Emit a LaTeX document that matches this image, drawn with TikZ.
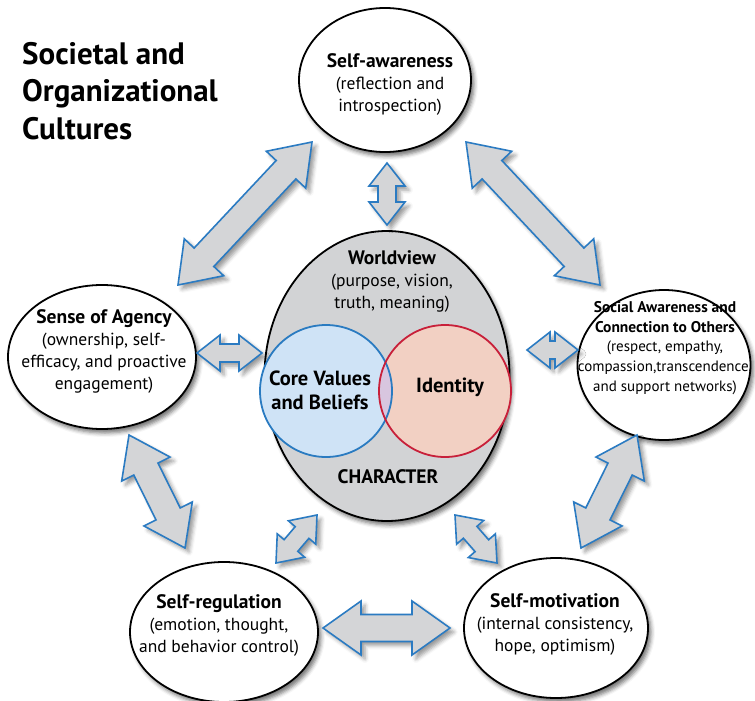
\documentclass[tikz,border=0pt]{standalone}
\usepackage{fontspec}
\setmainfont{PT Sans}
\usetikzlibrary{calc,shapes.geometric,shadows.blur}

\definecolor{arrowgray}{HTML}{D4D5D7}
\definecolor{arrowblue}{HTML}{2B7BC2}
\definecolor{chargray}{HTML}{D2D3D5}
\definecolor{coreblue}{HTML}{CFE3F6}
\definecolor{corerim}{HTML}{2A7BC1}
\definecolor{idpink}{HTML}{F2D0C3}
\definecolor{idrim}{HTML}{C8203A}
\definecolor{lens}{HTML}{D8C6DF}

% two-headed block arrow between two tips
% #1,#2 tips, #3 head half width, #4 shaft half width, #5 head length
\newcommand{\twoway}[5]{%
  \coordinate (tA) at #1;
  \coordinate (tB) at #2;
  \path[twoway]
    (tA) -- ($(tA)!#5!(tB)!#3!90:(tB)$) -- ($(tA)!#5!(tB)!#4!90:(tB)$)
    -- ($(tB)!#5!(tA)!#4!-90:(tA)$) -- ($(tB)!#5!(tA)!#3!-90:(tA)$)
    -- (tB) -- ($(tB)!#5!(tA)!#3!90:(tA)$) -- ($(tB)!#5!(tA)!#4!90:(tA)$)
    -- ($(tA)!#5!(tB)!#4!-90:(tB)$) -- ($(tA)!#5!(tB)!#3!-90:(tB)$) -- cycle;
}
\newcommand{\bigway}[2]{\twoway{#1}{#2}{27pt}{13.5pt}{38pt}}
\newcommand{\smallway}[2]{\twoway{#1}{#2}{18pt}{9pt}{23pt}}
% bold heading line
\newcommand{\hd}[1]{{\fontsize{19.5}{23}\selectfont\bfseries #1}}
\newcommand{\shd}[1]{{\fontsize{15.5}{20}\selectfont\bfseries #1}}

\begin{document}
\begin{tikzpicture}[x=1pt, y=-1pt,
  bubble/.style={ellipse, draw, line width=1.8pt, fill=white, inner sep=0pt,
    blur shadow={shadow xshift=3pt, shadow yshift=-4pt, shadow blur radius=4pt, shadow opacity=55}},
  twoway/.style={fill=arrowgray, draw=arrowblue, line width=1.6pt, line join=miter,
    blur shadow={shadow xshift=4pt, shadow yshift=-4pt, shadow blur radius=4pt, shadow opacity=40}},
  txt/.style={align=center, inner sep=0pt, font=\fontsize{17.5}{22}\selectfont},
  smalltxt/.style={align=center, inner sep=0pt, font=\fontsize{15}{19.6}\selectfont}]

  \useasboundingbox (0,0) rectangle (755,701);

  % Title
  \node [anchor=north west, align=left, inner sep=0pt,
    font=\fontsize{31}{37.5}\selectfont\bfseries] (title) at (22,42)
    {Societal and\\Organizational\\Cultures};

  % Outer bubbles
  \node [bubble, minimum width=172pt, minimum height=144pt] (aware) at (385,80) {};
  \node [bubble, minimum width=188pt, minimum height=144pt] (agency) at (102,357) {};
  \node [bubble, minimum width=173pt, minimum height=150pt] (social) at (664,365) {};
  \node [bubble, minimum width=188pt, minimum height=140pt] (regul) at (224,632) {};
  \node [bubble, minimum width=184pt, minimum height=140pt] (motiv) at (556,628) {};

  % Character
  \node [bubble, fill=chargray, minimum width=245pt, minimum height=290pt] (char) at (387,376) {};
  \node [circle, fill=coreblue, minimum size=132pt, inner sep=0pt] (core) at (326,391) {};
  \node [circle, fill=idpink, minimum size=132pt, inner sep=0pt] (ident) at (445,391) {};
  \begin{scope}
    \clip (core.center) circle [radius=66pt];
    \fill [lens] (ident.center) circle [radius=66pt];
  \end{scope}
  \draw [corerim, line width=1.8pt] (core.center) circle [radius=66pt];
  \draw [idrim, line width=1.8pt] (ident.center) circle [radius=66pt];

  % Texts
  \node [txt] (awaretxt) at (390,84) {\hd{Self-awareness}\\(reflection and\\introspection)};
  \node [txt] (agencytxt) at (104,351) {\hd{Sense of Agency}\\(ownership, self-\\efficacy, and proactive\\engagement)};
  \node [smalltxt] (socialtxt) at (665,348) {\shd{Social Awareness and}\\\shd{Connection to Others}\\(respect, empathy,\\compassion,transcendence,\\and support networks)};
  \node [txt] (regultxt) at (219,625) {\hd{Self-regulation}\\(emotion, thought,\\and behavior control)};
  \node [txt] (motivtxt) at (555,624) {\hd{Self-motivation}\\(internal consistency,\\hope, optimism)};
  \node [txt] (worldtxt) at (392,281) {\hd{Worldview}\\(purpose, vision,\\truth, meaning)};
  \node [txt, font=\fontsize{20.5}{24}\selectfont\bfseries] (coretxt) at (320,390) {Core Values\\and Beliefs};
  \node [txt, anchor=base, font=\fontsize{20.5}{22}\selectfont\bfseries] (identtxt) at (450,392) {Identity};
  \node [txt, anchor=base, font=\fontsize{19.5}{22}\selectfont\bfseries] (chartxt) at (388,483) {CHARACTER};

  % Arrows
  \bigway{($(agency)+(76,-72)$)}{($(aware)+(-73,62)$)}
  \bigway{($(aware)+(81,62)$)}{($(social)+(-64,-80)$)}
  \smallway{($(aware)+(2,83)$)}{($(char)+(0,-151)$)}
  \smallway{($(agency)+(95,-4)$)}{($(char)+(-125,-23)$)}
  \smallway{($(char)+(140,-26)$)}{($(social)+(-86,-15)$)}
  \bigway{($(agency)+(27,78)$)}{($(regul)+(-39,-84)$)}
  \bigway{($(social)+(-27,70)$)}{($(motiv)+(25,-80)$)}
  \smallway{($(regul)+(52,-69)$)}{($(char)+(-70,139)$)}
  \smallway{($(char)+(68,139)$)}{($(motiv)+(-59,-65)$)}
  \bigway{($(regul)+(99,-4)$)}{($(motiv)+(-106,0)$)}

\end{tikzpicture}
\end{document}
